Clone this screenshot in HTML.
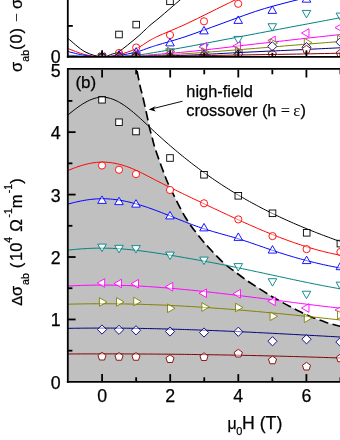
<!DOCTYPE html>
<html><head><meta charset="utf-8"><title>fig</title>
<style>html,body{margin:0;padding:0;background:#fff;}body{width:340px;height:440px;overflow:hidden;}svg{display:block;will-change:transform;}text{font-family:"Liberation Sans",sans-serif;fill:#000;stroke:#000;stroke-width:0.25px;}.sy{font-family:"Liberation Serif",serif;stroke:none;}</style></head><body>
<svg width="340" height="440" viewBox="0 0 340 440">
<rect width="340" height="440" fill="#fff"/>
<defs><clipPath id="cl"><rect x="67.80" y="69.70" width="280" height="312.20"/></clipPath><clipPath id="cu"><rect x="67.80" y="-5" width="280" height="62.10"/></clipPath></defs>
<g clip-path="url(#cl)"><path d="M136.80,69.70 C137.42,72.75 139.57,83.78 140.50,88.00 C141.43,92.22 141.23,90.00 142.40,95.00 C143.57,100.00 146.48,113.20 147.50,118.00 C148.52,122.80 147.71,120.47 148.50,123.80 C149.29,127.13 151.07,133.63 152.25,138.00 C153.43,142.37 153.60,144.00 155.60,150.00 C157.60,156.00 161.85,167.75 164.25,174.00 C166.65,180.25 166.46,180.25 170.00,187.50 C173.54,194.75 180.50,209.17 185.50,217.50 C190.50,225.83 195.75,232.08 200.00,237.50 C204.25,242.92 207.08,245.78 211.00,250.00 C214.92,254.22 219.33,259.05 223.50,262.80 C227.67,266.55 232.08,269.53 236.00,272.50 C239.92,275.47 243.33,278.05 247.00,280.60 C250.67,283.15 254.12,285.30 258.00,287.80 C261.88,290.30 266.58,293.35 270.30,295.60 C274.02,297.85 276.92,299.43 280.30,301.30 C283.68,303.17 287.17,305.00 290.60,306.80 C294.03,308.60 297.47,310.42 300.90,312.10 C304.33,313.78 307.08,315.22 311.20,316.90 C315.32,318.58 320.80,320.63 325.60,322.20 C330.40,323.77 336.60,325.37 340.00,326.30 C343.40,327.23 345.00,327.55 346.00,327.80 L345,381.9 L67.8,381.9 L67.8,69.7 Z" fill="#c0c0c0"/>
<path d="M136.80,69.70 C137.42,72.75 139.57,83.78 140.50,88.00 C141.43,92.22 141.23,90.00 142.40,95.00 C143.57,100.00 146.48,113.20 147.50,118.00 C148.52,122.80 147.71,120.47 148.50,123.80 C149.29,127.13 151.07,133.63 152.25,138.00 C153.43,142.37 153.60,144.00 155.60,150.00 C157.60,156.00 161.85,167.75 164.25,174.00 C166.65,180.25 166.46,180.25 170.00,187.50 C173.54,194.75 180.50,209.17 185.50,217.50 C190.50,225.83 195.75,232.08 200.00,237.50 C204.25,242.92 207.08,245.78 211.00,250.00 C214.92,254.22 219.33,259.05 223.50,262.80 C227.67,266.55 232.08,269.53 236.00,272.50 C239.92,275.47 243.33,278.05 247.00,280.60 C250.67,283.15 254.12,285.30 258.00,287.80 C261.88,290.30 266.58,293.35 270.30,295.60 C274.02,297.85 276.92,299.43 280.30,301.30 C283.68,303.17 287.17,305.00 290.60,306.80 C294.03,308.60 297.47,310.42 300.90,312.10 C304.33,313.78 307.08,315.22 311.20,316.90 C315.32,318.58 320.80,320.63 325.60,322.20 C330.40,323.77 336.60,325.37 340.00,326.30 C343.40,327.23 345.00,327.55 346.00,327.80" fill="none" stroke="#000" stroke-width="1.65" stroke-dasharray="9.3 4.3" stroke-dashoffset="-1.6"/>
<rect x="98.70" y="96.45" width="6.60" height="6.60" fill="#fff" stroke="none"/>
<rect x="115.70" y="118.95" width="6.60" height="6.60" fill="#fff" stroke="none"/>
<rect x="132.70" y="128.20" width="6.60" height="6.60" fill="#fff" stroke="none"/>
<rect x="166.70" y="154.70" width="6.60" height="6.60" fill="#fff" stroke="none"/>
<rect x="200.70" y="171.45" width="6.60" height="6.60" fill="#fff" stroke="none"/>
<rect x="235.00" y="192.50" width="6.60" height="6.60" fill="#fff" stroke="none"/>
<rect x="269.20" y="210.00" width="6.60" height="6.60" fill="#fff" stroke="none"/>
<rect x="303.40" y="229.50" width="6.60" height="6.60" fill="#fff" stroke="none"/>
<rect x="337.10" y="240.30" width="6.60" height="6.60" fill="#fff" stroke="none"/>
<path d="M66.35,116.34 L68.67,114.40 L70.98,112.49 L73.30,110.64 L75.62,108.86 L77.94,107.16 L80.25,105.55 L82.57,104.04 L84.89,102.65 L87.21,101.39 L89.52,100.26 L91.84,99.30 L94.16,98.50 L96.48,97.87 L98.80,97.44 L101.11,97.21 L103.43,97.20 L105.75,97.40 L108.07,97.81 L110.38,98.41 L112.70,99.19 L115.02,100.13 L117.34,101.24 L119.65,102.50 L121.97,103.89 L124.29,105.41 L126.61,107.05 L128.93,108.78 L131.24,110.61 L133.56,112.53 L135.88,114.51 L138.20,116.56 L140.51,118.65 L142.83,120.78 L145.15,122.94 L147.47,125.12 L149.78,127.30 L152.10,129.47 L154.42,131.63 L156.74,133.76 L159.06,135.88 L161.37,137.97 L163.69,140.04 L166.01,142.09 L168.33,144.12 L170.64,146.12 L172.96,148.11 L175.28,150.07 L177.60,152.01 L179.91,153.93 L182.23,155.83 L184.55,157.70 L186.87,159.56 L189.19,161.39 L191.50,163.19 L193.82,164.98 L196.14,166.75 L198.46,168.49 L200.77,170.21 L203.09,171.91 L205.41,173.58 L207.73,175.23 L210.04,176.86 L212.36,178.47 L214.68,180.06 L217.00,181.63 L219.31,183.17 L221.63,184.70 L223.95,186.20 L226.27,187.68 L228.59,189.15 L230.90,190.59 L233.22,192.02 L235.54,193.42 L237.86,194.81 L240.17,196.18 L242.49,197.53 L244.81,198.86 L247.13,200.18 L249.44,201.48 L251.76,202.76 L254.08,204.02 L256.40,205.27 L258.72,206.50 L261.03,207.71 L263.35,208.91 L265.67,210.09 L267.99,211.26 L270.30,212.42 L272.62,213.55 L274.94,214.68 L277.26,215.79 L279.57,216.88 L281.89,217.97 L284.21,219.03 L286.53,220.09 L288.85,221.13 L291.16,222.16 L293.48,223.18 L295.80,224.19 L298.12,225.18 L300.43,226.16 L302.75,227.14 L305.07,228.10 L307.39,229.05 L309.70,229.99 L312.02,230.92 L314.34,231.84 L316.66,232.75 L318.98,233.65 L321.29,234.54 L323.61,235.42 L325.93,236.30 L328.25,237.16 L330.56,238.02 L332.88,238.87 L335.20,239.72 L337.52,240.55 L339.83,241.38 L342.15,242.20" fill="none" stroke="#000000" stroke-width="1.0"/>
<rect x="98.70" y="96.45" width="6.60" height="6.60" fill="#fff" fill-opacity="0.45" stroke="#000000" stroke-width="0.9"/>
<rect x="115.70" y="118.95" width="6.60" height="6.60" fill="#fff" fill-opacity="0.45" stroke="#000000" stroke-width="0.9"/>
<rect x="132.70" y="128.20" width="6.60" height="6.60" fill="#fff" fill-opacity="0.45" stroke="#000000" stroke-width="0.9"/>
<rect x="166.70" y="154.70" width="6.60" height="6.60" fill="#fff" fill-opacity="0.45" stroke="#000000" stroke-width="0.9"/>
<rect x="200.70" y="171.45" width="6.60" height="6.60" fill="#fff" fill-opacity="0.45" stroke="#000000" stroke-width="0.9"/>
<rect x="235.00" y="192.50" width="6.60" height="6.60" fill="#fff" fill-opacity="0.45" stroke="#000000" stroke-width="0.9"/>
<rect x="269.20" y="210.00" width="6.60" height="6.60" fill="#fff" fill-opacity="0.45" stroke="#000000" stroke-width="0.9"/>
<rect x="303.40" y="229.50" width="6.60" height="6.60" fill="#fff" fill-opacity="0.45" stroke="#000000" stroke-width="0.9"/>
<rect x="337.10" y="240.30" width="6.60" height="6.60" fill="#fff" fill-opacity="0.45" stroke="#000000" stroke-width="0.9"/>
<circle cx="102.00" cy="165.50" r="3.6" fill="#fff" stroke="none"/>
<circle cx="119.00" cy="169.75" r="3.6" fill="#fff" stroke="none"/>
<circle cx="136.00" cy="174.10" r="3.6" fill="#fff" stroke="none"/>
<circle cx="170.00" cy="190.00" r="3.6" fill="#fff" stroke="none"/>
<circle cx="204.00" cy="203.30" r="3.6" fill="#fff" stroke="none"/>
<circle cx="238.30" cy="219.40" r="3.6" fill="#fff" stroke="none"/>
<circle cx="272.50" cy="236.10" r="3.6" fill="#fff" stroke="none"/>
<circle cx="306.60" cy="249.10" r="3.6" fill="#fff" stroke="none"/>
<circle cx="340.40" cy="252.00" r="3.6" fill="#fff" stroke="none"/>
<path d="M66.35,171.25 L68.67,170.25 L70.98,169.28 L73.30,168.37 L75.62,167.50 L77.94,166.68 L80.25,165.92 L82.57,165.21 L84.89,164.57 L87.21,163.99 L89.52,163.49 L91.84,163.05 L94.16,162.70 L96.48,162.42 L98.80,162.23 L101.11,162.12 L103.43,162.10 L105.75,162.18 L108.07,162.34 L110.38,162.59 L112.70,162.92 L115.02,163.33 L117.34,163.82 L119.65,164.38 L121.97,165.01 L124.29,165.72 L126.61,166.49 L128.93,167.33 L131.24,168.22 L133.56,169.18 L135.88,170.20 L138.20,171.27 L140.51,172.38 L142.83,173.53 L145.15,174.71 L147.47,175.91 L149.78,177.12 L152.10,178.33 L154.42,179.54 L156.74,180.74 L159.06,181.92 L161.37,183.10 L163.69,184.27 L166.01,185.43 L168.33,186.59 L170.64,187.73 L172.96,188.88 L175.28,190.01 L177.60,191.14 L179.91,192.26 L182.23,193.38 L184.55,194.50 L186.87,195.61 L189.19,196.72 L191.50,197.82 L193.82,198.92 L196.14,200.02 L198.46,201.12 L200.77,202.22 L203.09,203.32 L205.41,204.42 L207.73,205.51 L210.04,206.61 L212.36,207.71 L214.68,208.80 L217.00,209.89 L219.31,210.99 L221.63,212.07 L223.95,213.16 L226.27,214.24 L228.59,215.32 L230.90,216.40 L233.22,217.47 L235.54,218.53 L237.86,219.59 L240.17,220.65 L242.49,221.69 L244.81,222.74 L247.13,223.77 L249.44,224.80 L251.76,225.82 L254.08,226.83 L256.40,227.84 L258.72,228.83 L261.03,229.82 L263.35,230.80 L265.67,231.76 L267.99,232.72 L270.30,233.67 L272.62,234.60 L274.94,235.52 L277.26,236.44 L279.57,237.34 L281.89,238.22 L284.21,239.10 L286.53,239.96 L288.85,240.80 L291.16,241.63 L293.48,242.45 L295.80,243.25 L298.12,244.04 L300.43,244.81 L302.75,245.57 L305.07,246.30 L307.39,247.02 L309.70,247.73 L312.02,248.41 L314.34,249.08 L316.66,249.73 L318.98,250.36 L321.29,250.97 L323.61,251.56 L325.93,252.14 L328.25,252.69 L330.56,253.22 L332.88,253.72 L335.20,254.21 L337.52,254.67 L339.83,255.12 L342.15,255.54" fill="none" stroke="#ff0000" stroke-width="1.0"/>
<circle cx="102.00" cy="165.50" r="3.6" fill="#fff" fill-opacity="0.45" stroke="#ff0000" stroke-width="0.9"/>
<circle cx="119.00" cy="169.75" r="3.6" fill="#fff" fill-opacity="0.45" stroke="#ff0000" stroke-width="0.9"/>
<circle cx="136.00" cy="174.10" r="3.6" fill="#fff" fill-opacity="0.45" stroke="#ff0000" stroke-width="0.9"/>
<circle cx="170.00" cy="190.00" r="3.6" fill="#fff" stroke="#ff0000" stroke-width="0.9"/>
<circle cx="204.00" cy="203.30" r="3.6" fill="#fff" fill-opacity="0.45" stroke="#ff0000" stroke-width="0.9"/>
<circle cx="238.30" cy="219.40" r="3.6" fill="#fff" fill-opacity="0.45" stroke="#ff0000" stroke-width="0.9"/>
<circle cx="272.50" cy="236.10" r="3.6" fill="#fff" fill-opacity="0.45" stroke="#ff0000" stroke-width="0.9"/>
<circle cx="306.60" cy="249.10" r="3.6" fill="#fff" fill-opacity="0.45" stroke="#ff0000" stroke-width="0.9"/>
<circle cx="340.40" cy="252.00" r="3.6" fill="#fff" fill-opacity="0.45" stroke="#ff0000" stroke-width="0.9"/>
<polygon points="102.00,195.93 97.70,203.38 106.30,203.38" fill="#fff" stroke="none" stroke-linejoin="miter"/>
<polygon points="119.00,197.18 114.70,204.63 123.30,204.63" fill="#fff" stroke="none" stroke-linejoin="miter"/>
<polygon points="136.00,199.68 131.70,207.13 140.30,207.13" fill="#fff" stroke="none" stroke-linejoin="miter"/>
<polygon points="170.00,211.43 165.70,218.88 174.30,218.88" fill="#fff" stroke="none" stroke-linejoin="miter"/>
<polygon points="204.00,223.43 199.70,230.88 208.30,230.88" fill="#fff" stroke="none" stroke-linejoin="miter"/>
<polygon points="238.30,232.93 234.00,240.38 242.60,240.38" fill="#fff" stroke="none" stroke-linejoin="miter"/>
<polygon points="272.50,245.63 268.20,253.08 276.80,253.08" fill="#fff" stroke="none" stroke-linejoin="miter"/>
<polygon points="306.60,256.13 302.30,263.58 310.90,263.58" fill="#fff" stroke="none" stroke-linejoin="miter"/>
<polygon points="340.40,262.23 336.10,269.68 344.70,269.68" fill="#fff" stroke="none" stroke-linejoin="miter"/>
<path d="M66.35,204.59 L68.67,203.92 L70.98,203.29 L73.30,202.69 L75.62,202.13 L77.94,201.60 L80.25,201.11 L82.57,200.66 L84.89,200.25 L87.21,199.89 L89.52,199.57 L91.84,199.30 L94.16,199.08 L96.48,198.91 L98.80,198.79 L101.11,198.73 L103.43,198.73 L105.75,198.78 L108.07,198.88 L110.38,199.04 L112.70,199.25 L115.02,199.52 L117.34,199.82 L119.65,200.18 L121.97,200.58 L124.29,201.02 L126.61,201.50 L128.93,202.03 L131.24,202.59 L133.56,203.18 L135.88,203.81 L138.20,204.47 L140.51,205.17 L142.83,205.89 L145.15,206.64 L147.47,207.42 L149.78,208.21 L152.10,209.04 L154.42,209.88 L156.74,210.74 L159.06,211.61 L161.37,212.50 L163.69,213.41 L166.01,214.32 L168.33,215.24 L170.64,216.16 L172.96,217.09 L175.28,218.02 L177.60,218.95 L179.91,219.88 L182.23,220.80 L184.55,221.71 L186.87,222.62 L189.19,223.51 L191.50,224.39 L193.82,225.25 L196.14,226.10 L198.46,226.92 L200.77,227.72 L203.09,228.50 L205.41,229.25 L207.73,229.98 L210.04,230.68 L212.36,231.37 L214.68,232.04 L217.00,232.70 L219.31,233.34 L221.63,233.99 L223.95,234.63 L226.27,235.27 L228.59,235.92 L230.90,236.57 L233.22,237.24 L235.54,237.92 L237.86,238.61 L240.17,239.33 L242.49,240.07 L244.81,240.82 L247.13,241.59 L249.44,242.37 L251.76,243.16 L254.08,243.96 L256.40,244.77 L258.72,245.58 L261.03,246.39 L263.35,247.20 L265.67,248.01 L267.99,248.81 L270.30,249.61 L272.62,250.40 L274.94,251.17 L277.26,251.94 L279.57,252.69 L281.89,253.43 L284.21,254.16 L286.53,254.88 L288.85,255.58 L291.16,256.28 L293.48,256.96 L295.80,257.63 L298.12,258.29 L300.43,258.93 L302.75,259.56 L305.07,260.18 L307.39,260.79 L309.70,261.39 L312.02,261.97 L314.34,262.54 L316.66,263.10 L318.98,263.64 L321.29,264.18 L323.61,264.69 L325.93,265.20 L328.25,265.69 L330.56,266.17 L332.88,266.64 L335.20,267.09 L337.52,267.53 L339.83,267.96 L342.15,268.37" fill="none" stroke="#0000ff" stroke-width="1.0"/>
<polygon points="102.00,195.93 97.70,203.38 106.30,203.38" fill="#fff" fill-opacity="0.45" stroke="#0000ff" stroke-width="0.9" stroke-linejoin="miter"/>
<polygon points="119.00,197.18 114.70,204.63 123.30,204.63" fill="#fff" fill-opacity="0.45" stroke="#0000ff" stroke-width="0.9" stroke-linejoin="miter"/>
<polygon points="136.00,199.68 131.70,207.13 140.30,207.13" fill="#fff" fill-opacity="0.45" stroke="#0000ff" stroke-width="0.9" stroke-linejoin="miter"/>
<polygon points="170.00,211.43 165.70,218.88 174.30,218.88" fill="#fff" fill-opacity="0.45" stroke="#0000ff" stroke-width="0.9" stroke-linejoin="miter"/>
<polygon points="204.00,223.43 199.70,230.88 208.30,230.88" fill="#fff" fill-opacity="0.45" stroke="#0000ff" stroke-width="0.9" stroke-linejoin="miter"/>
<polygon points="238.30,232.93 234.00,240.38 242.60,240.38" fill="#fff" fill-opacity="0.45" stroke="#0000ff" stroke-width="0.9" stroke-linejoin="miter"/>
<polygon points="272.50,245.63 268.20,253.08 276.80,253.08" fill="#fff" fill-opacity="0.45" stroke="#0000ff" stroke-width="0.9" stroke-linejoin="miter"/>
<polygon points="306.60,256.13 302.30,263.58 310.90,263.58" fill="#fff" fill-opacity="0.45" stroke="#0000ff" stroke-width="0.9" stroke-linejoin="miter"/>
<polygon points="340.40,262.23 336.10,269.68 344.70,269.68" fill="#fff" fill-opacity="0.45" stroke="#0000ff" stroke-width="0.9" stroke-linejoin="miter"/>
<polygon points="102.00,251.57 97.70,244.12 106.30,244.12" fill="#fff" stroke="none" stroke-linejoin="miter"/>
<polygon points="119.00,252.82 114.70,245.37 123.30,245.37" fill="#fff" stroke="none" stroke-linejoin="miter"/>
<polygon points="136.00,253.07 131.70,245.62 140.30,245.62" fill="#fff" stroke="none" stroke-linejoin="miter"/>
<polygon points="170.00,259.57 165.70,252.12 174.30,252.12" fill="#fff" stroke="none" stroke-linejoin="miter"/>
<polygon points="204.00,264.57 199.70,257.12 208.30,257.12" fill="#fff" stroke="none" stroke-linejoin="miter"/>
<polygon points="238.30,271.07 234.00,263.62 242.60,263.62" fill="#fff" stroke="none" stroke-linejoin="miter"/>
<polygon points="272.50,286.17 268.20,278.72 276.80,278.72" fill="#fff" stroke="none" stroke-linejoin="miter"/>
<polygon points="306.50,298.67 302.20,291.22 310.80,291.22" fill="#fff" stroke="none" stroke-linejoin="miter"/>
<polygon points="340.40,289.57 336.10,282.12 344.70,282.12" fill="#fff" stroke="none" stroke-linejoin="miter"/>
<path d="M66.35,250.34 L68.67,250.07 L70.98,249.83 L73.30,249.59 L75.62,249.37 L77.94,249.17 L80.25,248.98 L82.57,248.81 L84.89,248.66 L87.21,248.53 L89.52,248.41 L91.84,248.31 L94.16,248.24 L96.48,248.18 L98.80,248.15 L101.11,248.14 L103.43,248.14 L105.75,248.18 L108.07,248.23 L110.38,248.30 L112.70,248.39 L115.02,248.50 L117.34,248.63 L119.65,248.78 L121.97,248.95 L124.29,249.13 L126.61,249.33 L128.93,249.54 L131.24,249.77 L133.56,250.02 L135.88,250.27 L138.20,250.54 L140.51,250.82 L142.83,251.11 L145.15,251.42 L147.47,251.73 L149.78,252.06 L152.10,252.39 L154.42,252.73 L156.74,253.08 L159.06,253.43 L161.37,253.79 L163.69,254.16 L166.01,254.53 L168.33,254.91 L170.64,255.29 L172.96,255.67 L175.28,256.06 L177.60,256.45 L179.91,256.84 L182.23,257.24 L184.55,257.64 L186.87,258.04 L189.19,258.45 L191.50,258.86 L193.82,259.27 L196.14,259.69 L198.46,260.11 L200.77,260.53 L203.09,260.96 L205.41,261.39 L207.73,261.82 L210.04,262.26 L212.36,262.69 L214.68,263.14 L217.00,263.58 L219.31,264.03 L221.63,264.49 L223.95,264.94 L226.27,265.40 L228.59,265.86 L230.90,266.33 L233.22,266.80 L235.54,267.27 L237.86,267.75 L240.17,268.23 L242.49,268.71 L244.81,269.19 L247.13,269.68 L249.44,270.17 L251.76,270.67 L254.08,271.16 L256.40,271.66 L258.72,272.15 L261.03,272.65 L263.35,273.15 L265.67,273.66 L267.99,274.16 L270.30,274.66 L272.62,275.16 L274.94,275.66 L277.26,276.17 L279.57,276.67 L281.89,277.17 L284.21,277.67 L286.53,278.17 L288.85,278.66 L291.16,279.16 L293.48,279.65 L295.80,280.14 L298.12,280.63 L300.43,281.12 L302.75,281.60 L305.07,282.08 L307.39,282.56 L309.70,283.03 L312.02,283.50 L314.34,283.96 L316.66,284.43 L318.98,284.88 L321.29,285.33 L323.61,285.78 L325.93,286.22 L328.25,286.66 L330.56,287.09 L332.88,287.52 L335.20,287.94 L337.52,288.35 L339.83,288.76 L342.15,289.16" fill="none" stroke="#008080" stroke-width="1.0"/>
<polygon points="102.00,251.57 97.70,244.12 106.30,244.12" fill="#fff" fill-opacity="0.45" stroke="#008080" stroke-width="0.9" stroke-linejoin="miter"/>
<polygon points="119.00,252.82 114.70,245.37 123.30,245.37" fill="#fff" fill-opacity="0.45" stroke="#008080" stroke-width="0.9" stroke-linejoin="miter"/>
<polygon points="136.00,253.07 131.70,245.62 140.30,245.62" fill="#fff" fill-opacity="0.45" stroke="#008080" stroke-width="0.9" stroke-linejoin="miter"/>
<polygon points="170.00,259.57 165.70,252.12 174.30,252.12" fill="#fff" fill-opacity="0.45" stroke="#008080" stroke-width="0.9" stroke-linejoin="miter"/>
<polygon points="204.00,264.57 199.70,257.12 208.30,257.12" fill="#fff" fill-opacity="0.45" stroke="#008080" stroke-width="0.9" stroke-linejoin="miter"/>
<polygon points="238.30,271.07 234.00,263.62 242.60,263.62" fill="#fff" fill-opacity="0.45" stroke="#008080" stroke-width="0.9" stroke-linejoin="miter"/>
<polygon points="272.50,286.17 268.20,278.72 276.80,278.72" fill="#fff" fill-opacity="0.45" stroke="#008080" stroke-width="0.9" stroke-linejoin="miter"/>
<polygon points="306.50,298.67 302.20,291.22 310.80,291.22" fill="#fff" fill-opacity="0.45" stroke="#008080" stroke-width="0.9" stroke-linejoin="miter"/>
<polygon points="340.40,289.57 336.10,282.12 344.70,282.12" fill="#fff" fill-opacity="0.45" stroke="#008080" stroke-width="0.9" stroke-linejoin="miter"/>
<polygon points="97.23,283.00 104.68,278.70 104.68,287.30" fill="#fff" stroke="none" stroke-linejoin="miter"/>
<polygon points="114.03,283.50 121.48,279.20 121.48,287.80" fill="#fff" stroke="none" stroke-linejoin="miter"/>
<polygon points="131.03,283.75 138.48,279.45 138.48,288.05" fill="#fff" stroke="none" stroke-linejoin="miter"/>
<polygon points="165.33,286.75 172.78,282.45 172.78,291.05" fill="#fff" stroke="none" stroke-linejoin="miter"/>
<polygon points="199.03,293.25 206.48,288.95 206.48,297.55" fill="#fff" stroke="none" stroke-linejoin="miter"/>
<polygon points="233.03,293.75 240.48,289.45 240.48,298.05" fill="#fff" stroke="none" stroke-linejoin="miter"/>
<polygon points="267.83,301.25 275.28,296.95 275.28,305.55" fill="#fff" stroke="none" stroke-linejoin="miter"/>
<polygon points="301.53,308.00 308.98,303.70 308.98,312.30" fill="#fff" stroke="none" stroke-linejoin="miter"/>
<polygon points="335.03,310.00 342.48,305.70 342.48,314.30" fill="#fff" stroke="none" stroke-linejoin="miter"/>
<path d="M66.35,286.08 L68.67,285.96 L70.98,285.85 L73.30,285.75 L75.62,285.65 L77.94,285.56 L80.25,285.48 L82.57,285.41 L84.89,285.34 L87.21,285.28 L89.52,285.23 L91.84,285.19 L94.16,285.15 L96.48,285.13 L98.80,285.11 L101.11,285.10 L103.43,285.10 L105.75,285.10 L108.07,285.12 L110.38,285.14 L112.70,285.17 L115.02,285.21 L117.34,285.26 L119.65,285.32 L121.97,285.38 L124.29,285.45 L126.61,285.53 L128.93,285.62 L131.24,285.71 L133.56,285.81 L135.88,285.92 L138.20,286.03 L140.51,286.15 L142.83,286.28 L145.15,286.41 L147.47,286.55 L149.78,286.69 L152.10,286.85 L154.42,287.00 L156.74,287.17 L159.06,287.33 L161.37,287.51 L163.69,287.69 L166.01,287.87 L168.33,288.06 L170.64,288.26 L172.96,288.46 L175.28,288.66 L177.60,288.87 L179.91,289.08 L182.23,289.30 L184.55,289.52 L186.87,289.74 L189.19,289.97 L191.50,290.21 L193.82,290.44 L196.14,290.68 L198.46,290.93 L200.77,291.17 L203.09,291.42 L205.41,291.68 L207.73,291.93 L210.04,292.19 L212.36,292.45 L214.68,292.71 L217.00,292.98 L219.31,293.24 L221.63,293.51 L223.95,293.79 L226.27,294.06 L228.59,294.33 L230.90,294.61 L233.22,294.89 L235.54,295.17 L237.86,295.45 L240.17,295.73 L242.49,296.01 L244.81,296.29 L247.13,296.58 L249.44,296.86 L251.76,297.15 L254.08,297.44 L256.40,297.72 L258.72,298.01 L261.03,298.31 L263.35,298.60 L265.67,298.89 L267.99,299.19 L270.30,299.48 L272.62,299.78 L274.94,300.08 L277.26,300.38 L279.57,300.68 L281.89,300.99 L284.21,301.29 L286.53,301.59 L288.85,301.90 L291.16,302.20 L293.48,302.50 L295.80,302.80 L298.12,303.11 L300.43,303.40 L302.75,303.70 L305.07,304.00 L307.39,304.29 L309.70,304.59 L312.02,304.87 L314.34,305.16 L316.66,305.45 L318.98,305.73 L321.29,306.00 L323.61,306.28 L325.93,306.54 L328.25,306.81 L330.56,307.07 L332.88,307.33 L335.20,307.58 L337.52,307.82 L339.83,308.06 L342.15,308.30" fill="none" stroke="#ff00ff" stroke-width="1.0"/>
<polygon points="97.23,283.00 104.68,278.70 104.68,287.30" fill="#fff" fill-opacity="0.45" stroke="#ff00ff" stroke-width="0.9" stroke-linejoin="miter"/>
<polygon points="114.03,283.50 121.48,279.20 121.48,287.80" fill="#fff" fill-opacity="0.45" stroke="#ff00ff" stroke-width="0.9" stroke-linejoin="miter"/>
<polygon points="131.03,283.75 138.48,279.45 138.48,288.05" fill="#fff" fill-opacity="0.45" stroke="#ff00ff" stroke-width="0.9" stroke-linejoin="miter"/>
<polygon points="165.33,286.75 172.78,282.45 172.78,291.05" fill="#fff" fill-opacity="0.45" stroke="#ff00ff" stroke-width="0.9" stroke-linejoin="miter"/>
<polygon points="199.03,293.25 206.48,288.95 206.48,297.55" fill="#fff" fill-opacity="0.45" stroke="#ff00ff" stroke-width="0.9" stroke-linejoin="miter"/>
<polygon points="233.03,293.75 240.48,289.45 240.48,298.05" fill="#fff" fill-opacity="0.45" stroke="#ff00ff" stroke-width="0.9" stroke-linejoin="miter"/>
<polygon points="267.83,301.25 275.28,296.95 275.28,305.55" fill="#fff" fill-opacity="0.45" stroke="#ff00ff" stroke-width="0.9" stroke-linejoin="miter"/>
<polygon points="301.53,308.00 308.98,303.70 308.98,312.30" fill="#fff" fill-opacity="0.45" stroke="#ff00ff" stroke-width="0.9" stroke-linejoin="miter"/>
<polygon points="335.03,310.00 342.48,305.70 342.48,314.30" fill="#fff" fill-opacity="0.45" stroke="#ff00ff" stroke-width="0.9" stroke-linejoin="miter"/>
<polygon points="106.87,302.00 99.42,297.70 99.42,306.30" fill="#fff" stroke="none" stroke-linejoin="miter"/>
<polygon points="123.97,301.90 116.52,297.60 116.52,306.20" fill="#fff" stroke="none" stroke-linejoin="miter"/>
<polygon points="141.17,301.50 133.72,297.20 133.72,305.80" fill="#fff" stroke="none" stroke-linejoin="miter"/>
<polygon points="174.97,308.25 167.52,303.95 167.52,312.55" fill="#fff" stroke="none" stroke-linejoin="miter"/>
<polygon points="209.27,307.00 201.82,302.70 201.82,311.30" fill="#fff" stroke="none" stroke-linejoin="miter"/>
<polygon points="242.97,307.50 235.52,303.20 235.52,311.80" fill="#fff" stroke="none" stroke-linejoin="miter"/>
<polygon points="277.57,316.25 270.12,311.95 270.12,320.55" fill="#fff" stroke="none" stroke-linejoin="miter"/>
<polygon points="311.77,318.25 304.32,313.95 304.32,322.55" fill="#fff" stroke="none" stroke-linejoin="miter"/>
<polygon points="344.97,315.00 337.52,310.70 337.52,319.30" fill="#fff" stroke="none" stroke-linejoin="miter"/>
<path d="M66.35,304.24 L68.67,304.18 L70.98,304.13 L73.30,304.07 L75.62,304.02 L77.94,303.98 L80.25,303.94 L82.57,303.90 L84.89,303.87 L87.21,303.84 L89.52,303.81 L91.84,303.79 L94.16,303.78 L96.48,303.76 L98.80,303.76 L101.11,303.75 L103.43,303.75 L105.75,303.76 L108.07,303.76 L110.38,303.78 L112.70,303.79 L115.02,303.81 L117.34,303.84 L119.65,303.87 L121.97,303.90 L124.29,303.94 L126.61,303.98 L128.93,304.03 L131.24,304.07 L133.56,304.13 L135.88,304.18 L138.20,304.24 L140.51,304.31 L142.83,304.37 L145.15,304.45 L147.47,304.52 L149.78,304.60 L152.10,304.68 L154.42,304.77 L156.74,304.86 L159.06,304.95 L161.37,305.04 L163.69,305.14 L166.01,305.25 L168.33,305.35 L170.64,305.46 L172.96,305.57 L175.28,305.69 L177.60,305.81 L179.91,305.93 L182.23,306.06 L184.55,306.18 L186.87,306.32 L189.19,306.45 L191.50,306.59 L193.82,306.73 L196.14,306.87 L198.46,307.02 L200.77,307.17 L203.09,307.32 L205.41,307.47 L207.73,307.63 L210.04,307.79 L212.36,307.95 L214.68,308.12 L217.00,308.28 L219.31,308.45 L221.63,308.63 L223.95,308.80 L226.27,308.98 L228.59,309.16 L230.90,309.34 L233.22,309.52 L235.54,309.71 L237.86,309.90 L240.17,310.09 L242.49,310.29 L244.81,310.48 L247.13,310.68 L249.44,310.88 L251.76,311.08 L254.08,311.28 L256.40,311.49 L258.72,311.70 L261.03,311.91 L263.35,312.12 L265.67,312.33 L267.99,312.55 L270.30,312.77 L272.62,312.99 L274.94,313.21 L277.26,313.43 L279.57,313.65 L281.89,313.88 L284.21,314.11 L286.53,314.33 L288.85,314.56 L291.16,314.80 L293.48,315.03 L295.80,315.26 L298.12,315.50 L300.43,315.74 L302.75,315.97 L305.07,316.21 L307.39,316.45 L309.70,316.70 L312.02,316.94 L314.34,317.18 L316.66,317.43 L318.98,317.68 L321.29,317.92 L323.61,318.17 L325.93,318.42 L328.25,318.67 L330.56,318.92 L332.88,319.17 L335.20,319.43 L337.52,319.68 L339.83,319.94 L342.15,320.19" fill="none" stroke="#808000" stroke-width="1.0"/>
<polygon points="106.87,302.00 99.42,297.70 99.42,306.30" fill="#fff" fill-opacity="0.45" stroke="#808000" stroke-width="0.9" stroke-linejoin="miter"/>
<polygon points="123.97,301.90 116.52,297.60 116.52,306.20" fill="#fff" fill-opacity="0.45" stroke="#808000" stroke-width="0.9" stroke-linejoin="miter"/>
<polygon points="141.17,301.50 133.72,297.20 133.72,305.80" fill="#fff" fill-opacity="0.45" stroke="#808000" stroke-width="0.9" stroke-linejoin="miter"/>
<polygon points="174.97,308.25 167.52,303.95 167.52,312.55" fill="#fff" fill-opacity="0.45" stroke="#808000" stroke-width="0.9" stroke-linejoin="miter"/>
<polygon points="209.27,307.00 201.82,302.70 201.82,311.30" fill="#fff" fill-opacity="0.45" stroke="#808000" stroke-width="0.9" stroke-linejoin="miter"/>
<polygon points="242.97,307.50 235.52,303.20 235.52,311.80" fill="#fff" fill-opacity="0.45" stroke="#808000" stroke-width="0.9" stroke-linejoin="miter"/>
<polygon points="277.57,316.25 270.12,311.95 270.12,320.55" fill="#fff" fill-opacity="0.45" stroke="#808000" stroke-width="0.9" stroke-linejoin="miter"/>
<polygon points="311.77,318.25 304.32,313.95 304.32,322.55" fill="#fff" fill-opacity="0.45" stroke="#808000" stroke-width="0.9" stroke-linejoin="miter"/>
<polygon points="344.97,315.00 337.52,310.70 337.52,319.30" fill="#fff" fill-opacity="0.45" stroke="#808000" stroke-width="0.9" stroke-linejoin="miter"/>
<polygon points="102.00,324.90 106.60,329.50 102.00,334.10 97.40,329.50" fill="#fff" stroke="none" stroke-linejoin="miter"/>
<polygon points="119.00,325.20 123.60,329.80 119.00,334.40 114.40,329.80" fill="#fff" stroke="none" stroke-linejoin="miter"/>
<polygon points="136.00,325.70 140.60,330.30 136.00,334.90 131.40,330.30" fill="#fff" stroke="none" stroke-linejoin="miter"/>
<polygon points="170.00,326.90 174.60,331.50 170.00,336.10 165.40,331.50" fill="#fff" stroke="none" stroke-linejoin="miter"/>
<polygon points="204.00,327.90 208.60,332.50 204.00,337.10 199.40,332.50" fill="#fff" stroke="none" stroke-linejoin="miter"/>
<polygon points="238.30,327.15 242.90,331.75 238.30,336.35 233.70,331.75" fill="#fff" stroke="none" stroke-linejoin="miter"/>
<polygon points="272.50,336.65 277.10,341.25 272.50,345.85 267.90,341.25" fill="#fff" stroke="none" stroke-linejoin="miter"/>
<polygon points="306.50,334.65 311.10,339.25 306.50,343.85 301.90,339.25" fill="#fff" stroke="none" stroke-linejoin="miter"/>
<polygon points="340.40,337.40 345.00,342.00 340.40,346.60 335.80,342.00" fill="#fff" stroke="none" stroke-linejoin="miter"/>
<path d="M66.35,328.37 L68.67,328.34 L70.98,328.30 L73.30,328.27 L75.62,328.24 L77.94,328.22 L80.25,328.19 L82.57,328.17 L84.89,328.15 L87.21,328.13 L89.52,328.12 L91.84,328.11 L94.16,328.10 L96.48,328.09 L98.80,328.08 L101.11,328.08 L103.43,328.08 L105.75,328.08 L108.07,328.09 L110.38,328.10 L112.70,328.11 L115.02,328.12 L117.34,328.13 L119.65,328.15 L121.97,328.17 L124.29,328.19 L126.61,328.22 L128.93,328.24 L131.24,328.27 L133.56,328.30 L135.88,328.34 L138.20,328.37 L140.51,328.41 L142.83,328.45 L145.15,328.49 L147.47,328.54 L149.78,328.58 L152.10,328.63 L154.42,328.68 L156.74,328.74 L159.06,328.79 L161.37,328.85 L163.69,328.90 L166.01,328.96 L168.33,329.03 L170.64,329.09 L172.96,329.16 L175.28,329.22 L177.60,329.29 L179.91,329.36 L182.23,329.44 L184.55,329.51 L186.87,329.59 L189.19,329.66 L191.50,329.74 L193.82,329.82 L196.14,329.91 L198.46,329.99 L200.77,330.08 L203.09,330.16 L205.41,330.25 L207.73,330.34 L210.04,330.43 L212.36,330.52 L214.68,330.62 L217.00,330.71 L219.31,330.81 L221.63,330.91 L223.95,331.01 L226.27,331.11 L228.59,331.21 L230.90,331.31 L233.22,331.42 L235.54,331.52 L237.86,331.63 L240.17,331.73 L242.49,331.84 L244.81,331.95 L247.13,332.06 L249.44,332.17 L251.76,332.28 L254.08,332.40 L256.40,332.51 L258.72,332.63 L261.03,332.74 L263.35,332.86 L265.67,332.98 L267.99,333.09 L270.30,333.21 L272.62,333.33 L274.94,333.45 L277.26,333.57 L279.57,333.69 L281.89,333.82 L284.21,333.94 L286.53,334.06 L288.85,334.19 L291.16,334.31 L293.48,334.43 L295.80,334.56 L298.12,334.69 L300.43,334.81 L302.75,334.94 L305.07,335.06 L307.39,335.19 L309.70,335.32 L312.02,335.45 L314.34,335.57 L316.66,335.70 L318.98,335.83 L321.29,335.96 L323.61,336.09 L325.93,336.22 L328.25,336.35 L330.56,336.47 L332.88,336.60 L335.20,336.73 L337.52,336.86 L339.83,336.99 L342.15,337.12" fill="none" stroke="#000080" stroke-width="1.0"/>
<polygon points="102.00,324.90 106.60,329.50 102.00,334.10 97.40,329.50" fill="#fff" fill-opacity="0.45" stroke="#000080" stroke-width="0.9" stroke-linejoin="miter"/>
<polygon points="119.00,325.20 123.60,329.80 119.00,334.40 114.40,329.80" fill="#fff" fill-opacity="0.45" stroke="#000080" stroke-width="0.9" stroke-linejoin="miter"/>
<polygon points="136.00,325.70 140.60,330.30 136.00,334.90 131.40,330.30" fill="#fff" fill-opacity="0.45" stroke="#000080" stroke-width="0.9" stroke-linejoin="miter"/>
<polygon points="170.00,326.90 174.60,331.50 170.00,336.10 165.40,331.50" fill="#fff" fill-opacity="0.45" stroke="#000080" stroke-width="0.9" stroke-linejoin="miter"/>
<polygon points="204.00,327.90 208.60,332.50 204.00,337.10 199.40,332.50" fill="#fff" fill-opacity="0.45" stroke="#000080" stroke-width="0.9" stroke-linejoin="miter"/>
<polygon points="238.30,327.15 242.90,331.75 238.30,336.35 233.70,331.75" fill="#fff" fill-opacity="0.45" stroke="#000080" stroke-width="0.9" stroke-linejoin="miter"/>
<polygon points="272.50,336.65 277.10,341.25 272.50,345.85 267.90,341.25" fill="#fff" fill-opacity="0.45" stroke="#000080" stroke-width="0.9" stroke-linejoin="miter"/>
<polygon points="306.50,334.65 311.10,339.25 306.50,343.85 301.90,339.25" fill="#fff" fill-opacity="0.45" stroke="#000080" stroke-width="0.9" stroke-linejoin="miter"/>
<polygon points="340.40,337.40 345.00,342.00 340.40,346.60 335.80,342.00" fill="#fff" fill-opacity="0.45" stroke="#000080" stroke-width="0.9" stroke-linejoin="miter"/>
<polygon points="102.00,352.30 106.04,355.24 104.50,359.99 99.50,359.99 97.96,355.24" fill="#fff" stroke="none" stroke-linejoin="miter"/>
<polygon points="119.00,352.55 123.04,355.49 121.50,360.24 116.50,360.24 114.96,355.49" fill="#fff" stroke="none" stroke-linejoin="miter"/>
<polygon points="136.00,352.55 140.04,355.49 138.50,360.24 133.50,360.24 131.96,355.49" fill="#fff" stroke="none" stroke-linejoin="miter"/>
<polygon points="170.00,354.80 174.04,357.74 172.50,362.49 167.50,362.49 165.96,357.74" fill="#fff" stroke="none" stroke-linejoin="miter"/>
<polygon points="204.00,352.80 208.04,355.74 206.50,360.49 201.50,360.49 199.96,355.74" fill="#fff" stroke="none" stroke-linejoin="miter"/>
<polygon points="238.30,349.30 242.34,352.24 240.80,356.99 235.80,356.99 234.26,352.24" fill="#fff" stroke="none" stroke-linejoin="miter"/>
<polygon points="272.50,356.05 276.54,358.99 275.00,363.74 270.00,363.74 268.46,358.99" fill="#fff" stroke="none" stroke-linejoin="miter"/>
<polygon points="306.50,362.30 310.54,365.24 309.00,369.99 304.00,369.99 302.46,365.24" fill="#fff" stroke="none" stroke-linejoin="miter"/>
<polygon points="340.40,354.05 344.44,356.99 342.90,361.74 337.90,361.74 336.36,356.99" fill="#fff" stroke="none" stroke-linejoin="miter"/>
<path d="M66.35,353.98 L68.67,353.97 L70.98,353.95 L73.30,353.94 L75.62,353.94 L77.94,353.93 L80.25,353.92 L82.57,353.91 L84.89,353.91 L87.21,353.90 L89.52,353.90 L91.84,353.89 L94.16,353.89 L96.48,353.89 L98.80,353.88 L101.11,353.88 L103.43,353.88 L105.75,353.88 L108.07,353.89 L110.38,353.89 L112.70,353.89 L115.02,353.90 L117.34,353.90 L119.65,353.91 L121.97,353.91 L124.29,353.92 L126.61,353.93 L128.93,353.94 L131.24,353.94 L133.56,353.96 L135.88,353.97 L138.20,353.98 L140.51,353.99 L142.83,354.00 L145.15,354.02 L147.47,354.03 L149.78,354.05 L152.10,354.06 L154.42,354.08 L156.74,354.10 L159.06,354.12 L161.37,354.14 L163.69,354.16 L166.01,354.18 L168.33,354.20 L170.64,354.22 L172.96,354.25 L175.28,354.27 L177.60,354.30 L179.91,354.32 L182.23,354.35 L184.55,354.37 L186.87,354.40 L189.19,354.43 L191.50,354.46 L193.82,354.49 L196.14,354.52 L198.46,354.55 L200.77,354.59 L203.09,354.62 L205.41,354.66 L207.73,354.69 L210.04,354.73 L212.36,354.76 L214.68,354.80 L217.00,354.84 L219.31,354.88 L221.63,354.92 L223.95,354.96 L226.27,355.00 L228.59,355.04 L230.90,355.08 L233.22,355.13 L235.54,355.17 L237.86,355.22 L240.17,355.26 L242.49,355.31 L244.81,355.36 L247.13,355.41 L249.44,355.45 L251.76,355.50 L254.08,355.56 L256.40,355.61 L258.72,355.66 L261.03,355.71 L263.35,355.77 L265.67,355.82 L267.99,355.88 L270.30,355.93 L272.62,355.99 L274.94,356.05 L277.26,356.10 L279.57,356.16 L281.89,356.22 L284.21,356.28 L286.53,356.35 L288.85,356.41 L291.16,356.47 L293.48,356.54 L295.80,356.60 L298.12,356.67 L300.43,356.73 L302.75,356.80 L305.07,356.87 L307.39,356.94 L309.70,357.00 L312.02,357.08 L314.34,357.15 L316.66,357.22 L318.98,357.29 L321.29,357.36 L323.61,357.44 L325.93,357.51 L328.25,357.59 L330.56,357.66 L332.88,357.74 L335.20,357.82 L337.52,357.90 L339.83,357.98 L342.15,358.06" fill="none" stroke="#800000" stroke-width="1.0"/>
<polygon points="102.00,352.30 106.04,355.24 104.50,359.99 99.50,359.99 97.96,355.24" fill="#fff" fill-opacity="0.45" stroke="#800000" stroke-width="0.9" stroke-linejoin="miter"/>
<polygon points="119.00,352.55 123.04,355.49 121.50,360.24 116.50,360.24 114.96,355.49" fill="#fff" fill-opacity="0.45" stroke="#800000" stroke-width="0.9" stroke-linejoin="miter"/>
<polygon points="136.00,352.55 140.04,355.49 138.50,360.24 133.50,360.24 131.96,355.49" fill="#fff" fill-opacity="0.45" stroke="#800000" stroke-width="0.9" stroke-linejoin="miter"/>
<polygon points="170.00,354.80 174.04,357.74 172.50,362.49 167.50,362.49 165.96,357.74" fill="#fff" fill-opacity="0.45" stroke="#800000" stroke-width="0.9" stroke-linejoin="miter"/>
<polygon points="204.00,352.80 208.04,355.74 206.50,360.49 201.50,360.49 199.96,355.74" fill="#fff" fill-opacity="0.45" stroke="#800000" stroke-width="0.9" stroke-linejoin="miter"/>
<polygon points="238.30,349.30 242.34,352.24 240.80,356.99 235.80,356.99 234.26,352.24" fill="#fff" fill-opacity="0.45" stroke="#800000" stroke-width="0.9" stroke-linejoin="miter"/>
<polygon points="272.50,356.05 276.54,358.99 275.00,363.74 270.00,363.74 268.46,358.99" fill="#fff" fill-opacity="0.45" stroke="#800000" stroke-width="0.9" stroke-linejoin="miter"/>
<polygon points="306.50,362.30 310.54,365.24 309.00,369.99 304.00,369.99 302.46,365.24" fill="#fff" fill-opacity="0.45" stroke="#800000" stroke-width="0.9" stroke-linejoin="miter"/>
<polygon points="340.40,354.05 344.44,356.99 342.90,361.74 337.90,361.74 336.36,356.99" fill="#fff" fill-opacity="0.45" stroke="#800000" stroke-width="0.9" stroke-linejoin="miter"/>
</g>
<g clip-path="url(#cu)">
<rect x="115.70" y="31.20" width="6.60" height="6.60" fill="#fff" stroke="none"/>
<rect x="132.90" y="21.30" width="6.60" height="6.60" fill="#fff" stroke="none"/>
<rect x="166.70" y="-2.00" width="6.60" height="6.60" fill="#fff" stroke="none"/>
<path d="M68.00,38.40 C70.83,40.63 79.33,48.73 85.00,51.80 C90.67,54.87 97.42,56.45 102.00,56.80 C106.58,57.15 109.67,54.77 112.50,53.90 C115.33,53.03 115.08,54.22 119.00,51.60 C122.92,48.98 131.67,41.80 136.00,38.20 C140.33,34.60 142.67,32.15 145.00,30.00 C147.33,27.85 147.50,27.43 150.00,25.30 C152.50,23.17 155.00,21.42 160.00,17.20 C165.00,12.98 174.67,4.53 180.00,0.00 C185.33,-4.53 190.00,-8.33 192.00,-10.00" fill="none" stroke="#000000" stroke-width="1.0"/>
<rect x="98.70" y="53.50" width="6.60" height="6.60" fill="none" stroke="#000000" stroke-width="0.9"/>
<rect x="115.70" y="31.20" width="6.60" height="6.60" fill="#fff" fill-opacity="0.45" stroke="#000000" stroke-width="0.9"/>
<rect x="132.90" y="21.30" width="6.60" height="6.60" fill="#fff" fill-opacity="0.45" stroke="#000000" stroke-width="0.9"/>
<rect x="166.70" y="-2.00" width="6.60" height="6.60" fill="#fff" fill-opacity="0.45" stroke="#000000" stroke-width="0.9"/>
<circle cx="136.20" cy="47.50" r="3.6" fill="#fff" stroke="none"/>
<circle cx="170.00" cy="35.00" r="3.6" fill="#fff" stroke="none"/>
<circle cx="204.00" cy="21.30" r="3.6" fill="#fff" stroke="none"/>
<circle cx="238.20" cy="3.80" r="3.6" fill="#fff" stroke="none"/>
<path d="M68.00,48.60 C70.83,49.60 79.33,53.23 85.00,54.60 C90.67,55.97 96.33,56.80 102.00,56.80 C107.67,56.80 113.29,55.95 119.00,54.60 C124.71,53.25 131.08,51.08 136.25,48.70 C141.42,46.32 146.04,42.53 150.00,40.30 C153.96,38.07 154.17,37.93 160.00,35.30 C165.83,32.67 176.67,28.33 185.00,24.50 C193.33,20.67 201.67,16.38 210.00,12.30 C218.33,8.22 228.00,3.38 235.00,0.00 C242.00,-3.38 249.17,-6.67 252.00,-8.00" fill="none" stroke="#ff0000" stroke-width="1.0"/>
<circle cx="102.00" cy="56.80" r="3.6" fill="none" stroke="#ff0000" stroke-width="0.9"/>
<circle cx="119.00" cy="53.00" r="3.6" fill="none" stroke="#ff0000" stroke-width="0.9"/>
<circle cx="136.20" cy="47.50" r="3.6" fill="#fff" fill-opacity="0.45" stroke="#ff0000" stroke-width="0.9"/>
<circle cx="170.00" cy="35.00" r="3.6" fill="#fff" fill-opacity="0.45" stroke="#ff0000" stroke-width="0.9"/>
<circle cx="204.00" cy="21.30" r="3.6" fill="#fff" fill-opacity="0.45" stroke="#ff0000" stroke-width="0.9"/>
<circle cx="238.20" cy="3.80" r="3.6" fill="#fff" fill-opacity="0.45" stroke="#ff0000" stroke-width="0.9"/>
<polygon points="170.00,38.43 165.70,45.88 174.30,45.88" fill="#fff" stroke="none" stroke-linejoin="miter"/>
<polygon points="204.00,26.43 199.70,33.88 208.30,33.88" fill="#fff" stroke="none" stroke-linejoin="miter"/>
<polygon points="238.20,15.93 233.90,23.38 242.50,23.38" fill="#fff" stroke="none" stroke-linejoin="miter"/>
<polygon points="272.30,5.93 268.00,13.38 276.60,13.38" fill="#fff" stroke="none" stroke-linejoin="miter"/>
<polygon points="306.50,-5.27 302.20,2.18 310.80,2.18" fill="#fff" stroke="none" stroke-linejoin="miter"/>
<path d="M68.00,51.60 C70.83,52.23 79.33,54.53 85.00,55.40 C90.67,56.27 96.33,56.80 102.00,56.80 C107.67,56.80 113.33,56.17 119.00,55.40 C124.67,54.63 130.83,53.53 136.00,52.20 C141.17,50.87 146.00,48.72 150.00,47.40 C154.00,46.08 154.17,46.07 160.00,44.30 C165.83,42.53 175.00,40.15 185.00,36.80 C195.00,33.45 209.17,28.12 220.00,24.20 C230.83,20.28 241.67,16.17 250.00,13.30 C258.33,10.43 261.67,9.35 270.00,7.00 C278.33,4.65 291.67,1.20 300.00,-0.80 C308.33,-2.80 316.67,-4.30 320.00,-5.00" fill="none" stroke="#0000ff" stroke-width="1.0"/>
<polygon points="102.00,51.83 97.70,59.28 106.30,59.28" fill="none" stroke="#0000ff" stroke-width="0.9" stroke-linejoin="miter"/>
<polygon points="119.00,50.63 114.70,58.08 123.30,58.08" fill="none" stroke="#0000ff" stroke-width="0.9" stroke-linejoin="miter"/>
<polygon points="136.20,47.63 131.90,55.08 140.50,55.08" fill="none" stroke="#0000ff" stroke-width="0.9" stroke-linejoin="miter"/>
<polygon points="170.00,38.43 165.70,45.88 174.30,45.88" fill="#fff" fill-opacity="0.45" stroke="#0000ff" stroke-width="0.9" stroke-linejoin="miter"/>
<polygon points="204.00,26.43 199.70,33.88 208.30,33.88" fill="#fff" fill-opacity="0.45" stroke="#0000ff" stroke-width="0.9" stroke-linejoin="miter"/>
<polygon points="238.20,15.93 233.90,23.38 242.50,23.38" fill="#fff" fill-opacity="0.45" stroke="#0000ff" stroke-width="0.9" stroke-linejoin="miter"/>
<polygon points="272.30,5.93 268.00,13.38 276.60,13.38" fill="#fff" fill-opacity="0.45" stroke="#0000ff" stroke-width="0.9" stroke-linejoin="miter"/>
<polygon points="306.50,-5.27 302.20,2.18 310.80,2.18" fill="#fff" fill-opacity="0.45" stroke="#0000ff" stroke-width="0.9" stroke-linejoin="miter"/>
<polygon points="204.00,51.77 199.70,44.32 208.30,44.32" fill="#fff" stroke="none" stroke-linejoin="miter"/>
<polygon points="238.20,43.87 233.90,36.42 242.50,36.42" fill="#fff" stroke="none" stroke-linejoin="miter"/>
<polygon points="272.30,31.17 268.00,23.72 276.60,23.72" fill="#fff" stroke="none" stroke-linejoin="miter"/>
<polygon points="306.50,17.87 302.20,10.42 310.80,10.42" fill="#fff" stroke="none" stroke-linejoin="miter"/>
<polygon points="340.40,20.57 336.10,13.12 344.70,13.12" fill="#fff" stroke="none" stroke-linejoin="miter"/>
<path d="M68.00,55.20 C73.67,55.47 90.67,56.83 102.00,56.80 C113.33,56.77 128.00,55.60 136.00,55.00 C144.00,54.40 141.83,54.50 150.00,53.20 C158.17,51.90 173.33,49.32 185.00,47.20 C196.67,45.08 209.17,42.57 220.00,40.50 C230.83,38.43 241.67,36.38 250.00,34.80 C258.33,33.22 263.33,32.27 270.00,31.00 C276.67,29.73 282.50,28.62 290.00,27.20 C297.50,25.78 306.67,24.07 315.00,22.50 C323.33,20.93 335.00,18.73 340.00,17.80 C345.00,16.87 344.17,17.05 345.00,16.90" fill="none" stroke="#008080" stroke-width="1.0"/>
<polygon points="102.00,61.77 97.70,54.32 106.30,54.32" fill="none" stroke="#008080" stroke-width="0.9" stroke-linejoin="miter"/>
<polygon points="119.00,60.97 114.70,53.52 123.30,53.52" fill="none" stroke="#008080" stroke-width="0.9" stroke-linejoin="miter"/>
<polygon points="136.20,60.17 131.90,52.72 140.50,52.72" fill="none" stroke="#008080" stroke-width="0.9" stroke-linejoin="miter"/>
<polygon points="170.00,56.27 165.70,48.82 174.30,48.82" fill="none" stroke="#008080" stroke-width="0.9" stroke-linejoin="miter"/>
<polygon points="204.00,51.77 199.70,44.32 208.30,44.32" fill="#fff" fill-opacity="0.45" stroke="#008080" stroke-width="0.9" stroke-linejoin="miter"/>
<polygon points="238.20,43.87 233.90,36.42 242.50,36.42" fill="#fff" fill-opacity="0.45" stroke="#008080" stroke-width="0.9" stroke-linejoin="miter"/>
<polygon points="272.30,31.17 268.00,23.72 276.60,23.72" fill="#fff" fill-opacity="0.45" stroke="#008080" stroke-width="0.9" stroke-linejoin="miter"/>
<polygon points="306.50,17.87 302.20,10.42 310.80,10.42" fill="#fff" fill-opacity="0.45" stroke="#008080" stroke-width="0.9" stroke-linejoin="miter"/>
<polygon points="340.40,20.57 336.10,13.12 344.70,13.12" fill="#fff" fill-opacity="0.45" stroke="#008080" stroke-width="0.9" stroke-linejoin="miter"/>
<polygon points="199.03,47.00 206.48,42.70 206.48,51.30" fill="#fff" stroke="none" stroke-linejoin="miter"/>
<polygon points="233.03,46.00 240.48,41.70 240.48,50.30" fill="#fff" stroke="none" stroke-linejoin="miter"/>
<polygon points="267.83,40.50 275.28,36.20 275.28,44.80" fill="#fff" stroke="none" stroke-linejoin="miter"/>
<polygon points="301.53,33.00 308.98,28.70 308.98,37.30" fill="#fff" stroke="none" stroke-linejoin="miter"/>
<polygon points="335.03,27.60 342.48,23.30 342.48,31.90" fill="#fff" stroke="none" stroke-linejoin="miter"/>
<path d="M68.00,56.10 C73.67,56.22 90.67,56.82 102.00,56.80 C113.33,56.78 128.00,56.32 136.00,56.00 C144.00,55.68 141.83,55.57 150.00,54.90 C158.17,54.23 173.33,53.12 185.00,52.00 C196.67,50.88 209.17,49.43 220.00,48.20 C230.83,46.97 241.67,45.57 250.00,44.60 C258.33,43.63 263.33,43.15 270.00,42.40 C276.67,41.65 282.50,40.95 290.00,40.10 C297.50,39.25 306.67,38.22 315.00,37.30 C323.33,36.38 335.00,35.13 340.00,34.60 C345.00,34.07 344.17,34.18 345.00,34.10" fill="none" stroke="#ff00ff" stroke-width="1.0"/>
<polygon points="97.23,56.80 104.68,52.50 104.68,61.10" fill="none" stroke="#ff00ff" stroke-width="0.9" stroke-linejoin="miter"/>
<polygon points="114.03,56.20 121.48,51.90 121.48,60.50" fill="none" stroke="#ff00ff" stroke-width="0.9" stroke-linejoin="miter"/>
<polygon points="131.03,56.00 138.48,51.70 138.48,60.30" fill="none" stroke="#ff00ff" stroke-width="0.9" stroke-linejoin="miter"/>
<polygon points="165.33,53.40 172.78,49.10 172.78,57.70" fill="none" stroke="#ff00ff" stroke-width="0.9" stroke-linejoin="miter"/>
<polygon points="199.03,47.00 206.48,42.70 206.48,51.30" fill="#fff" fill-opacity="0.45" stroke="#ff00ff" stroke-width="0.9" stroke-linejoin="miter"/>
<polygon points="233.03,46.00 240.48,41.70 240.48,50.30" fill="#fff" fill-opacity="0.45" stroke="#ff00ff" stroke-width="0.9" stroke-linejoin="miter"/>
<polygon points="267.83,40.50 275.28,36.20 275.28,44.80" fill="#fff" fill-opacity="0.45" stroke="#ff00ff" stroke-width="0.9" stroke-linejoin="miter"/>
<polygon points="301.53,33.00 308.98,28.70 308.98,37.30" fill="#fff" fill-opacity="0.45" stroke="#ff00ff" stroke-width="0.9" stroke-linejoin="miter"/>
<polygon points="335.03,27.60 342.48,23.30 342.48,31.90" fill="#fff" fill-opacity="0.45" stroke="#ff00ff" stroke-width="0.9" stroke-linejoin="miter"/>
<polygon points="277.57,43.00 270.12,38.70 270.12,47.30" fill="#fff" stroke="none" stroke-linejoin="miter"/>
<polygon points="311.77,42.50 304.32,38.20 304.32,46.80" fill="#fff" stroke="none" stroke-linejoin="miter"/>
<polygon points="344.97,39.50 337.52,35.20 337.52,43.80" fill="#fff" stroke="none" stroke-linejoin="miter"/>
<path d="M68.00,56.40 C73.67,56.47 90.67,56.82 102.00,56.80 C113.33,56.78 128.00,56.50 136.00,56.30 C144.00,56.10 141.83,56.02 150.00,55.60 C158.17,55.18 173.33,54.48 185.00,53.75 C196.67,53.02 209.17,52.03 220.00,51.20 C230.83,50.38 241.67,49.47 250.00,48.80 C258.33,48.13 263.33,47.75 270.00,47.20 C276.67,46.65 282.50,46.12 290.00,45.50 C297.50,44.88 306.67,44.17 315.00,43.50 C323.33,42.83 335.00,41.90 340.00,41.50 C345.00,41.10 344.17,41.17 345.00,41.10" fill="none" stroke="#808000" stroke-width="1.0"/>
<polygon points="106.87,56.80 99.42,52.50 99.42,61.10" fill="none" stroke="#808000" stroke-width="0.9" stroke-linejoin="miter"/>
<polygon points="123.97,56.60 116.52,52.30 116.52,60.90" fill="none" stroke="#808000" stroke-width="0.9" stroke-linejoin="miter"/>
<polygon points="141.17,56.90 133.72,52.60 133.72,61.20" fill="none" stroke="#808000" stroke-width="0.9" stroke-linejoin="miter"/>
<polygon points="174.97,51.50 167.52,47.20 167.52,55.80" fill="none" stroke="#808000" stroke-width="0.9" stroke-linejoin="miter"/>
<polygon points="209.27,52.00 201.82,47.70 201.82,56.30" fill="none" stroke="#808000" stroke-width="0.9" stroke-linejoin="miter"/>
<polygon points="242.97,51.00 235.52,46.70 235.52,55.30" fill="none" stroke="#808000" stroke-width="0.9" stroke-linejoin="miter"/>
<polygon points="277.57,43.00 270.12,38.70 270.12,47.30" fill="#fff" fill-opacity="0.45" stroke="#808000" stroke-width="0.9" stroke-linejoin="miter"/>
<polygon points="311.77,42.50 304.32,38.20 304.32,46.80" fill="#fff" fill-opacity="0.45" stroke="#808000" stroke-width="0.9" stroke-linejoin="miter"/>
<polygon points="344.97,39.50 337.52,35.20 337.52,43.80" fill="#fff" fill-opacity="0.45" stroke="#808000" stroke-width="0.9" stroke-linejoin="miter"/>
<polygon points="272.30,41.70 276.90,46.30 272.30,50.90 267.70,46.30" fill="#fff" stroke="none" stroke-linejoin="miter"/>
<polygon points="306.50,42.60 311.10,47.20 306.50,51.80 301.90,47.20" fill="#fff" stroke="none" stroke-linejoin="miter"/>
<polygon points="340.40,37.40 345.00,42.00 340.40,46.60 335.80,42.00" fill="#fff" stroke="none" stroke-linejoin="miter"/>
<path d="M68.00,56.60 C73.67,56.63 90.67,56.80 102.00,56.80 C113.33,56.80 128.00,56.70 136.00,56.60 C144.00,56.50 141.83,56.42 150.00,56.20 C158.17,55.98 173.33,55.73 185.00,55.30 C196.67,54.87 210.83,54.07 220.00,53.60 C229.17,53.13 231.67,52.92 240.00,52.50 C248.33,52.08 261.67,51.48 270.00,51.10 C278.33,50.72 282.50,50.55 290.00,50.20 C297.50,49.85 306.67,49.40 315.00,49.00 C323.33,48.60 335.00,48.03 340.00,47.80 C345.00,47.57 344.17,47.63 345.00,47.60" fill="none" stroke="#000080" stroke-width="1.0"/>
<polygon points="102.00,52.20 106.60,56.80 102.00,61.40 97.40,56.80" fill="none" stroke="#000080" stroke-width="0.9" stroke-linejoin="miter"/>
<polygon points="119.00,51.90 123.60,56.50 119.00,61.10 114.40,56.50" fill="none" stroke="#000080" stroke-width="0.9" stroke-linejoin="miter"/>
<polygon points="136.00,51.60 140.60,56.20 136.00,60.80 131.40,56.20" fill="none" stroke="#000080" stroke-width="0.9" stroke-linejoin="miter"/>
<polygon points="170.00,52.40 174.60,57.00 170.00,61.60 165.40,57.00" fill="none" stroke="#000080" stroke-width="0.9" stroke-linejoin="miter"/>
<polygon points="204.00,50.40 208.60,55.00 204.00,59.60 199.40,55.00" fill="none" stroke="#000080" stroke-width="0.9" stroke-linejoin="miter"/>
<polygon points="238.30,49.60 242.90,54.20 238.30,58.80 233.70,54.20" fill="none" stroke="#000080" stroke-width="0.9" stroke-linejoin="miter"/>
<polygon points="272.30,41.70 276.90,46.30 272.30,50.90 267.70,46.30" fill="#fff" fill-opacity="0.45" stroke="#000080" stroke-width="0.9" stroke-linejoin="miter"/>
<polygon points="306.50,42.60 311.10,47.20 306.50,51.80 301.90,47.20" fill="#fff" fill-opacity="0.45" stroke="#000080" stroke-width="0.9" stroke-linejoin="miter"/>
<polygon points="340.40,37.40 345.00,42.00 340.40,46.60 335.80,42.00" fill="#fff" fill-opacity="0.45" stroke="#000080" stroke-width="0.9" stroke-linejoin="miter"/>
<polygon points="306.50,45.35 310.54,48.29 309.00,53.04 304.00,53.04 302.46,48.29" fill="#fff" stroke="none" stroke-linejoin="miter"/>
<path d="M68.00,56.80 C73.67,56.80 88.33,56.85 102.00,56.80 C115.67,56.75 136.17,56.63 150.00,56.50 C163.83,56.37 170.00,56.25 185.00,56.00 C200.00,55.75 222.50,55.30 240.00,55.00 C257.50,54.70 273.33,54.50 290.00,54.20 C306.67,53.90 330.83,53.38 340.00,53.20 C349.17,53.02 344.17,53.12 345.00,53.10" fill="none" stroke="#800000" stroke-width="1.0"/>
<polygon points="102.00,52.85 106.04,55.79 104.50,60.54 99.50,60.54 97.96,55.79" fill="none" stroke="#800000" stroke-width="0.9" stroke-linejoin="miter"/>
<polygon points="119.00,52.65 123.04,55.59 121.50,60.34 116.50,60.34 114.96,55.59" fill="none" stroke="#800000" stroke-width="0.9" stroke-linejoin="miter"/>
<polygon points="136.00,52.65 140.04,55.59 138.50,60.34 133.50,60.34 131.96,55.59" fill="none" stroke="#800000" stroke-width="0.9" stroke-linejoin="miter"/>
<polygon points="170.00,54.55 174.04,57.49 172.50,62.24 167.50,62.24 165.96,57.49" fill="none" stroke="#800000" stroke-width="0.9" stroke-linejoin="miter"/>
<polygon points="204.00,53.55 208.04,56.49 206.50,61.24 201.50,61.24 199.96,56.49" fill="none" stroke="#800000" stroke-width="0.9" stroke-linejoin="miter"/>
<polygon points="238.30,55.55 242.34,58.49 240.80,63.24 235.80,63.24 234.26,58.49" fill="none" stroke="#800000" stroke-width="0.9" stroke-linejoin="miter"/>
<polygon points="272.30,49.85 276.34,52.79 274.80,57.54 269.80,57.54 268.26,52.79" fill="none" stroke="#800000" stroke-width="0.9" stroke-linejoin="miter"/>
<polygon points="306.50,45.35 310.54,48.29 309.00,53.04 304.00,53.04 302.46,48.29" fill="#fff" fill-opacity="0.45" stroke="#800000" stroke-width="0.9" stroke-linejoin="miter"/>
<polygon points="340.40,49.25 344.44,52.19 342.90,56.94 337.90,56.94 336.36,52.19" fill="none" stroke="#800000" stroke-width="0.9" stroke-linejoin="miter"/>
</g>
<g stroke="#000" stroke-width="1.8" fill="none" stroke-linecap="butt">
<path d="M67.8,382.79999999999995 V68.8 H341"/>
<path d="M66.89999999999999,381.9 H341"/>
<path d="M67.8,-2 V57.699999999999996"/><path d="M66.89999999999999,56.8 H341"/>
<path d="M102.10,381.9 v-7.8"/>
<path d="M102.10,69.7 v7.8"/>
<path d="M102.10,56.8 v-6.5"/>
<path d="M136.15,381.9 v-4.6"/>
<path d="M136.15,69.7 v4.6"/>
<path d="M136.15,56.8 v-4"/>
<path d="M170.20,381.9 v-7.8"/>
<path d="M170.20,69.7 v7.8"/>
<path d="M170.20,56.8 v-6.5"/>
<path d="M204.25,381.9 v-4.6"/>
<path d="M204.25,69.7 v4.6"/>
<path d="M204.25,56.8 v-4"/>
<path d="M238.30,381.9 v-7.8"/>
<path d="M238.30,69.7 v7.8"/>
<path d="M238.30,56.8 v-6.5"/>
<path d="M272.35,381.9 v-4.6"/>
<path d="M272.35,69.7 v4.6"/>
<path d="M272.35,56.8 v-4"/>
<path d="M306.40,381.9 v-7.8"/>
<path d="M306.40,69.7 v7.8"/>
<path d="M306.40,56.8 v-6.5"/>
<path d="M340.45,381.9 v-4.6"/>
<path d="M340.45,69.7 v4.6"/>
<path d="M340.45,56.8 v-4"/>
<path d="M67.8,350.68 h4.6"/>
<path d="M67.8,319.46 h7.8"/>
<path d="M67.8,288.24 h4.6"/>
<path d="M67.8,257.02 h7.8"/>
<path d="M67.8,225.80 h4.6"/>
<path d="M67.8,194.58 h7.8"/>
<path d="M67.8,163.36 h4.6"/>
<path d="M67.8,132.14 h7.8"/>
<path d="M67.8,100.92 h4.6"/>
<path d="M67.8,25.9 h5"/>
</g>
<path d="M182.5,101.2 L152.5,108.7" stroke="#000" stroke-width="0.95" fill="none"/>
<polygon points="148.7,109.5 155.9,106.1 153.6,108.4 155.6,111.6" fill="#000"/>
<text x="75.4" y="88.2" font-size="17">(b)</text>
<text x="186.3" y="96.6" font-size="16.4">high-field</text>
<text x="186.3" y="116.2" font-size="16.4">crossover (h</text><text x="280.8" y="116.2" font-size="16.5" class="sy">=</text><text x="293.2" y="116.2" font-size="16.8" class="sy">ε</text><text x="300.6" y="116.2" font-size="16.4">)</text>
<text x="102.10" y="401.7" font-size="17.8" text-anchor="middle">0</text>
<text x="170.20" y="401.7" font-size="17.8" text-anchor="middle">2</text>
<text x="238.30" y="401.7" font-size="17.8" text-anchor="middle">4</text>
<text x="306.40" y="401.7" font-size="17.8" text-anchor="middle">6</text>
<text x="60.6" y="388.90" font-size="17.8" text-anchor="end">0</text>
<text x="60.6" y="326.46" font-size="17.8" text-anchor="end">1</text>
<text x="60.6" y="264.02" font-size="17.8" text-anchor="end">2</text>
<text x="60.6" y="201.58" font-size="17.8" text-anchor="end">3</text>
<text x="60.6" y="139.14" font-size="17.8" text-anchor="end">4</text>
<text x="60.6" y="76.70" font-size="17.8" text-anchor="end">5</text>
<text x="60.6" y="63.40" font-size="17.8" text-anchor="end">0</text>
<text x="227.4" y="429.2" font-size="15.8">μ</text><text x="236.3" y="435" font-size="11">0</text><text x="242" y="429.2" font-size="17.7">H (T)</text>
<g transform="translate(22.3,306.2) rotate(-90)"><text x="0.4" y="0" font-size="15">Δ</text><text x="10.2" y="0" font-size="16.5">σ</text><text x="21.3" y="6.8" font-size="10.5">ab</text><text x="37.9" y="0" font-size="16.5">(</text><text x="45.3" y="0" font-size="16.5">10</text><text x="63.4" y="-10.4" font-size="10.3">4</text><text x="74.4" y="0" font-size="17">Ω</text><text x="88.8" y="-10.4" font-size="10.3">-1</text><text x="98.0" y="0" font-size="16.5">m</text><text x="113.0" y="-10.4" font-size="10.3">-1</text><text x="122.5" y="0" font-size="16.5">)</text></g>
<g transform="translate(22.3,71.3) rotate(-90)"><text x="-0.6" y="0" font-size="16.5">σ</text><text x="9.6" y="6.8" font-size="10.5">ab</text><text x="21.3" y="0" font-size="16.5">(</text><text x="27.8" y="0" font-size="16.5">0</text><text x="37.8" y="0" font-size="16.5">)</text><text x="49.0" y="0" font-size="16.5" class="sy">−</text><text x="62.3" y="0" font-size="16.5">σ</text></g>
</svg></body></html>
